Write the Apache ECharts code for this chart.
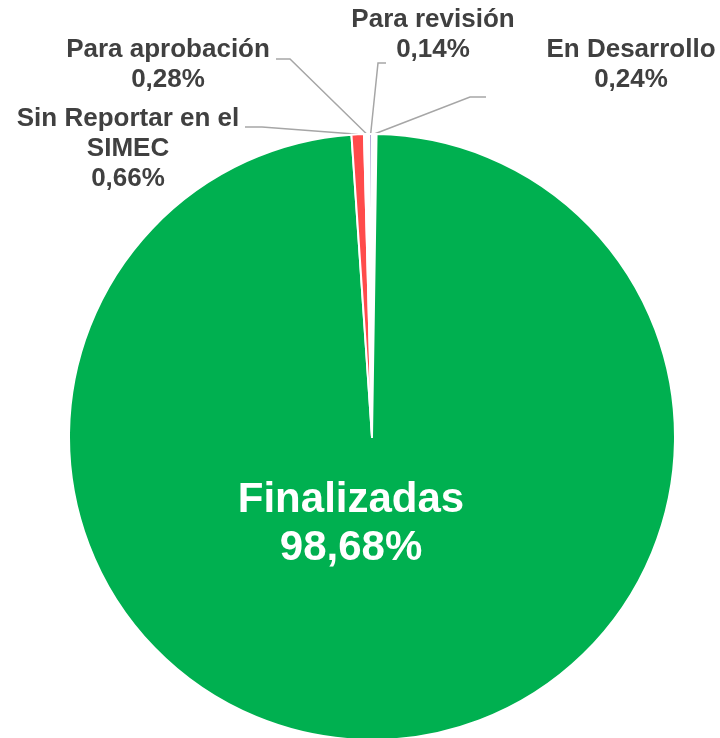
<!DOCTYPE html>
<html><head><meta charset="utf-8">
<script src="https://cdn.jsdelivr.net/npm/echarts@6/dist/echarts.min.js"></script>
<style>html,body{margin:0;padding:0;background:#fff;}#c{width:720px;height:738px;}</style>
</head><body><div id="c"></div>
<script>
const categories = ['En Desarrollo', 'Finalizadas', 'Sin Reportar en el\nSIMEC', 'Para aprobación', 'Para revisión'];
const values = [0.24, 98.68, 0.66, 0.28, 0.14];
const valueLabels = ['0,24%', '98,68%', '0,66%', '0,28%', '0,14%'];
const colors = ['#FFFFFF', '#00B050', '#FF4B4B', '#FFFFFF', '#8E7CC3'];

// label placement (style only): [x, y, bendX, bendY, endX, endY]
const labelPlace = [
  [631, 65, 470, 97, 486, 97],
  [351, 524, null, null, null, null],
  [128, 149, 262, 127, 245, 127],
  [168, 65, 290, 59, 276, 59],
  [433, 35, 378, 63, 386, 63]
];

const chart = echarts.init(document.getElementById('c'));
chart.setOption({
  animation: false,
  series: [{
    type: 'pie',
    center: [372, 437],
    radius: [0, 303],
    startAngle: 90,
    clockwise: true,
    avoidLabelOverlap: false,
    itemStyle: { borderColor: '#FFFFFF', borderWidth: 2 },
    label: {
      show: true,
      formatter: p => p.name + '\n' + valueLabels[p.dataIndex],
      fontFamily: 'Liberation Sans, Arial, sans-serif',
      fontWeight: 'bold',
      fontSize: 26,
      lineHeight: 30,
      color: '#404040',
      align: 'center'
    },
    labelLine: { show: true, length: 10, length2: 10, lineStyle: { color: '#A6A6A6', width: 1.5 } },
    labelLayout: function (params) {
      const i = params.dataIndex;
      const pl = labelPlace[i];
      const out = { x: pl[0], y: pl[1], align: 'center', verticalAlign: 'middle' };
      if (pl[2] != null && params.labelLinePoints) {
        const p0 = params.labelLinePoints[0];
        out.labelLinePoints = [[p0[0], p0[1]], [pl[2], pl[3]], [pl[4], pl[5]]];
      }
      return out;
    },
    data: categories.map((c, i) => {
      const d = { name: c, value: values[i], itemStyle: { color: colors[i] } };
      if (i === 1) {
        d.label = { position: 'inside', color: '#FFFFFF', fontSize: 42, lineHeight: 48 };
        d.labelLine = { show: false };
      }
      return d;
    })
  }]
});
</script></body></html>
